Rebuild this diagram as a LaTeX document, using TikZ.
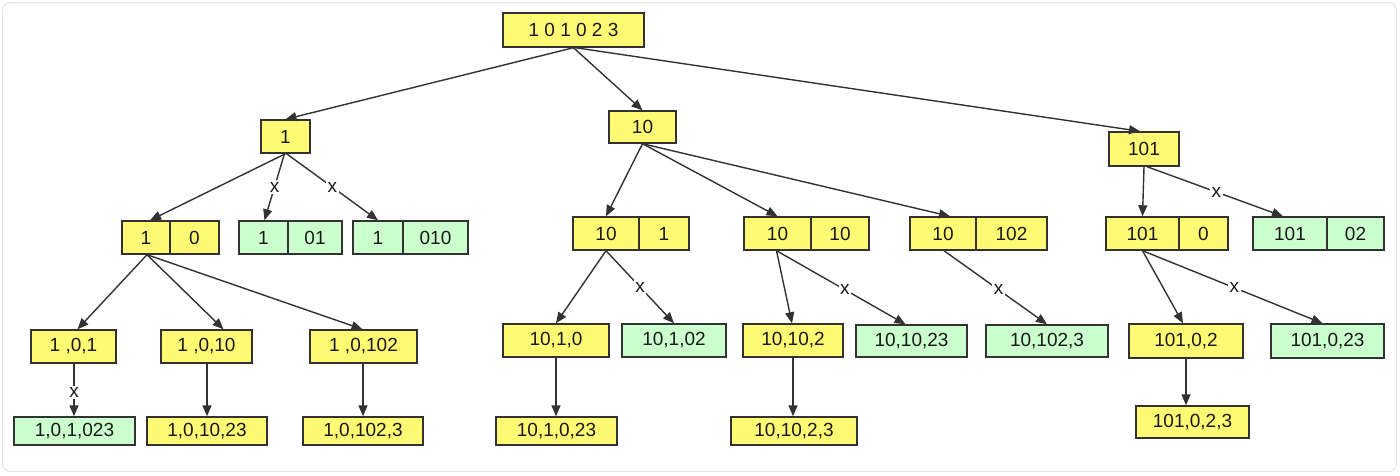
\documentclass[tikz,border=0pt]{standalone}
\usepackage{fontspec}
\setmainfont{Liberation Sans}
\usetikzlibrary{arrows.meta}
\definecolor{yel}{RGB}{255,250,115}
\definecolor{grn}{RGB}{204,255,206}
\definecolor{edgec}{RGB}{50,50,50}
\definecolor{txtc}{RGB}{25,25,25}
\definecolor{framec}{RGB}{228,228,228}
\tikzset{
  box/.style={draw=edgec, line width=1.4pt, inner sep=0pt, minimum height=33pt,
    font=\fontsize{19}{22}\selectfont, text=txtc},
  yb/.style={box, fill=yel},
  gb/.style={box, fill=grn},
  conn/.style={draw=edgec, line width=1.4pt, -{Triangle[length=11pt,width=9pt]}},
  xlab/.style={fill=white, inner sep=1.5pt, font=\fontsize{19}{22}\selectfont, text=txtc}
}
\begin{document}
\begin{tikzpicture}[x=1pt,y=-1pt]
\useasboundingbox (0,0) rectangle (1400,475);
\draw[framec, line width=1pt, rounded corners=8pt] (2.5,2.5) rectangle (1396.5,471.5);

% root and level 1
\node[yb, minimum width=141pt, minimum height=34pt] (R) at (573.5,30) {1 0 1 0 2 3};
\node[yb, minimum width=49pt] (A) at (285.5,136.5) {1};
\node[yb, minimum width=67pt, minimum height=32pt] (B) at (642.5,127) {10};
\node[yb, minimum width=70pt, minimum height=34pt] (C) at (1144,149) {101};

% level 2 (split boxes)
\node[yb, minimum width=48pt] (S1L) at (146,237.5) {1};
\node[yb, minimum width=49pt] (S1R) at (194.5,237.5) {0};
\node[gb, minimum width=49pt] (S2L) at (263.5,237.5) {1};
\node[gb, minimum width=54pt] (S2R) at (315,237.5) {01};
\node[gb, minimum width=50pt] (S3L) at (378,237.5) {1};
\node[gb, minimum width=65pt] (S3R) at (435.5,237.5) {010};
\node[yb, minimum width=66pt] (S4L) at (606,233.5) {10};
\node[yb, minimum width=50pt] (S4R) at (664,233.5) {1};
\node[yb, minimum width=67pt] (S5L) at (777.5,233.5) {10};
\node[yb, minimum width=58pt] (S5R) at (840,233.5) {10};
\node[yb, minimum width=66pt] (S6L) at (943,233.5) {10};
\node[yb, minimum width=71pt] (S6R) at (1011.5,233.5) {102};
\node[yb, minimum width=73pt] (S7L) at (1142.5,233.5) {101};
\node[yb, minimum width=49pt] (S7R) at (1203.5,233.5) {0};
\node[gb, minimum width=74pt] (S8L) at (1290,233.5) {101};
\node[gb, minimum width=57pt] (S8R) at (1355.5,233.5) {02};

% level 3
\node[yb, minimum width=85pt] (T1) at (73.5,346.5) {1 ,0,1};
\node[yb, minimum width=91pt] (T2) at (206.5,346.5) {1 ,0,10};
\node[yb, minimum width=107pt] (T3) at (363.5,346.5) {1 ,0,102};
\node[yb, minimum width=106pt] (T4) at (556,340.5) {10,1,0};
\node[gb, minimum width=104pt] (T5) at (674,340.5) {10,1,02};
\node[yb, minimum width=100pt] (T6) at (793,340.5) {10,10,2};
\node[gb, minimum width=111pt, minimum height=32pt] (T7) at (911.5,341) {10,10,23};
\node[gb, minimum width=122pt, minimum height=32pt] (T8) at (1047,341) {10,102,3};
\node[yb, minimum width=114pt, minimum height=34pt] (T9) at (1186,341) {101,0,2};
\node[gb, minimum width=113pt, minimum height=34pt] (T10) at (1327.5,341) {101,0,23};

% level 4
\node[gb, minimum width=121pt, minimum height=28pt] (U1) at (74.5,431) {1,0,1,023};
\node[yb, minimum width=120pt, minimum height=28pt] (U2) at (207,431) {1,0,10,23};
\node[yb, minimum width=120pt, minimum height=28pt] (U3) at (363,431) {1,0,102,3};
\node[yb, minimum width=121pt, minimum height=28pt] (U4) at (556.5,431) {10,1,0,23};
\node[yb, minimum width=126pt, minimum height=28pt] (U5) at (794,431) {10,10,2,3};
\node[yb, minimum width=113pt, minimum height=32pt] (U6) at (1192.5,422) {101,0,2,3};

% connectors: root
\draw[conn] (R.south) -- (A.north);
\draw[conn] (R.south) -- (B.north);
\draw[conn] ([xshift=2pt]R.south) -- ([xshift=-4pt]C.north);

% from "1"
\draw[conn] (A.south) -- ([xshift=4pt]S1L.north);
\draw[conn] ([xshift=-1pt]A.south) -- ([xshift=1pt]S2L.north) node[xlab, pos=0.5] {x};
\draw[conn] ([xshift=1pt]A.south) -- (S3L.north) node[xlab, pos=0.5] {x};

% from "10"
\draw[conn] (B.south) -- (S4L.north);
\draw[conn] (B.south) -- (S5L.north);
\draw[conn] (B.south) -- ([xshift=7pt]S6L.north);

% from "101"
\draw[conn] (C.south) -- (S7L.north);
\draw[conn] ([xshift=3pt]C.south) -- ([xshift=-7pt]S8L.north) node[xlab, pos=0.51] {x};

% level 2 -> level 3
\draw[conn] ([xshift=1pt]S1L.south) -- ([xshift=4pt]T1.north);
\draw[conn] ([xshift=1pt]S1L.south) -- ([xshift=17pt]T2.north);
\draw[conn] ([xshift=1pt]S1L.south) -- ([xshift=-1pt]T3.north);
\draw[conn] (S4L.south) -- (T4.north);
\draw[conn] (S4L.south) -- (T5.north) node[xlab, pos=0.5] {x};
\draw[conn] ([xshift=-1pt]S5L.south) -- ([xshift=-1pt]T6.north);
\draw[conn] ([xshift=-1pt]S5L.south) -- ([xshift=-6pt]T7.north) node[xlab, pos=0.53] {x};
\draw[conn] ([xshift=1pt]S6L.south) -- (T8.north) node[xlab, pos=0.53] {x};
\draw[conn] (S7L.south) -- ([xshift=-3pt]T9.north);
\draw[conn] (S7L.south) -- ([xshift=-5pt]T10.north) node[xlab, pos=0.51] {x};

% level 3 -> level 4
\draw[conn] ([xshift=0.5pt]T1.south) -- ([xshift=0.5pt]T1.south |- U1.north) node[xlab, pos=0.54] {x};
\draw[conn] ([xshift=0.5pt]T2.south) -- ([xshift=0.5pt]T2.south |- U2.north);
\draw[conn] ([xshift=-0.5pt]T3.south) -- ([xshift=-0.5pt]T3.south |- U3.north);
\draw[conn] (T4.south) -- (T4.south |- U4.north);
\draw[conn] (T6.south) -- (T6.south |- U5.north);
\draw[conn] (T9.south) -- (T9.south |- U6.north);
\end{tikzpicture}
\end{document}
